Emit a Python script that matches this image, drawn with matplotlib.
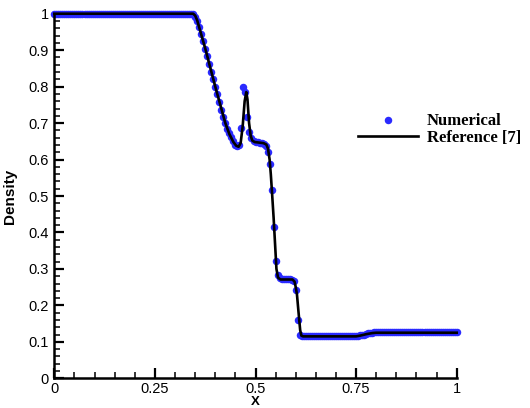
import numpy as np
import matplotlib
matplotlib.use("Agg")
import matplotlib.pyplot as plt
from matplotlib.ticker import MultipleLocator, FixedLocator, FuncFormatter

# ---------------- data ----------------
num_x = np.round(np.arange(0, 201) * 0.005, 3)  # solution grid
num_rho = [
    # 0.000 - 0.340
    1.0, 1.0, 1.0, 1.0, 1.0, 1.0, 1.0, 1.0, 1.0, 1.0,
    1.0, 1.0, 1.0, 1.0, 1.0, 1.0, 1.0, 1.0, 1.0, 1.0,
    1.0, 1.0, 1.0, 1.0, 1.0, 1.0, 1.0, 1.0, 1.0, 1.0,
    1.0, 1.0, 1.0, 1.0, 1.0, 1.0, 1.0, 1.0, 1.0, 1.0,
    1.0, 1.0, 1.0, 1.0, 1.0, 1.0, 1.0, 1.0, 1.0, 1.0,
    1.0, 1.0, 1.0, 1.0, 1.0, 1.0, 1.0, 1.0, 1.0, 1.0,
    1.0, 1.0, 1.0, 1.0, 1.0, 1.0, 1.0, 1.0, 1.0,
    # 0.345 - 0.460
    0.998, 0.992, 0.980, 0.963, 0.944, 0.924, 0.904, 0.883, 0.862, 0.841,
    0.820, 0.800, 0.779, 0.758, 0.737, 0.716, 0.700, 0.685, 0.672, 0.661,
    0.650, 0.641, 0.637, 0.640,
    # 0.465 - 0.615
    0.686, 0.799, 0.784, 0.718, 0.675, 0.660, 0.651, 0.648, 0.647, 0.646,
    0.645, 0.643, 0.636, 0.622, 0.587, 0.516, 0.414, 0.322, 0.283, 0.275,
    0.273, 0.272, 0.272, 0.272, 0.271, 0.270, 0.266, 0.242, 0.161, 0.118,
    0.116,
    # 0.620 - 0.750
    0.116, 0.116, 0.116, 0.116, 0.116, 0.116, 0.116, 0.116, 0.116, 0.116,
    0.116, 0.116, 0.116, 0.116, 0.116, 0.116, 0.116, 0.116, 0.116, 0.116,
    0.116, 0.116, 0.116, 0.116, 0.116, 0.116, 0.116,
    # 0.755 - 0.790
    0.117, 0.118, 0.119, 0.120, 0.122, 0.123, 0.124, 0.125,
    # 0.795 - 1.000
    0.126, 0.126, 0.126, 0.126, 0.126, 0.126, 0.126, 0.126, 0.126, 0.126,
    0.126, 0.126, 0.126, 0.126, 0.126, 0.126, 0.126, 0.126, 0.126, 0.126,
    0.126, 0.126, 0.126, 0.126, 0.126, 0.126, 0.126, 0.126, 0.126, 0.126,
    0.126, 0.126, 0.126, 0.126, 0.126, 0.126, 0.126, 0.126, 0.126, 0.126,
    0.126, 0.126,
]

ref_x = [0.0, 0.345, 0.350, 0.355, 0.375, 0.400, 0.425, 0.435, 0.445, 0.452,
         0.458, 0.463, 0.468, 0.473, 0.477, 0.480, 0.484, 0.488, 0.492, 0.498,
         0.520, 0.527, 0.531, 0.535, 0.538, 0.541, 0.545, 0.549, 0.552, 0.556,
         0.562, 0.592, 0.597, 0.600, 0.603, 0.607, 0.611, 0.614, 0.618, 0.750,
         0.760, 0.775, 0.790, 0.800, 1.0]
ref_rho = [1.0, 1.0, 0.995, 0.982, 0.905, 0.800, 0.700, 0.670, 0.648, 0.638,
           0.635, 0.645, 0.690, 0.760, 0.785, 0.765, 0.700, 0.665, 0.652, 0.648,
           0.645, 0.641, 0.630, 0.600, 0.560, 0.510, 0.440, 0.360, 0.300, 0.276,
           0.271, 0.271, 0.265, 0.250, 0.230, 0.180, 0.132, 0.117, 0.115, 0.115,
           0.117, 0.121, 0.124, 0.125, 0.125]

x_major = [0, 0.25, 0.5, 0.75, 1]
x_labels = ["0", "0.25", "0.5", "0.75", "1"]

# ---------------- figure ----------------
plt.rcParams['font.family'] = ['Liberation Sans', 'DejaVu Sans']
fig = plt.figure(figsize=(5.30, 4.08), dpi=100)
ax = fig.add_axes([0.1025, 0.0728, 0.7592, 0.8936])

ax.plot(num_x, num_rho, linestyle='none', marker='o', markersize=5.4,
        color='#2a2aff', markeredgewidth=0, clip_on=False, label='Numerical', zorder=2)
ax.plot(ref_x, ref_rho, color='black', linewidth=1.9, label='Reference [7]',
        zorder=3, clip_on=False)

ax.set_xlim(0, 1)
ax.set_ylim(0, 1)
for s in ['top', 'right']:
    ax.spines[s].set_visible(False)
for s in ['left', 'bottom']:
    ax.spines[s].set_linewidth(1.8)

ax.xaxis.set_major_locator(FixedLocator(x_major))
ax.xaxis.set_major_formatter(FuncFormatter(lambda v, p: x_labels[x_major.index(round(v, 2))] if round(v, 2) in x_major else ""))
ax.xaxis.set_minor_locator(MultipleLocator(0.05))
ax.yaxis.set_major_locator(MultipleLocator(0.1))
ax.yaxis.set_major_formatter(FuncFormatter(lambda v, p: "0" if abs(v) < 1e-9 else ("1" if abs(v - 1) < 1e-9 else f"{v:.1f}")))
ax.yaxis.set_minor_locator(MultipleLocator(0.02))

ax.tick_params(which='major', direction='in', length=7, width=1.6, labelsize=10.5, pad=4)
ax.tick_params(which='minor', direction='in', length=4, width=1.1)
ax.tick_params(axis='x', which='major', pad=2.5)

ax.set_ylabel('Density', fontsize=11, fontweight='bold')
ax.yaxis.set_label_coords(-0.092, 0.5)
ax.set_xlabel('X', fontsize=9.5, fontweight='bold', va='top')
ax.xaxis.set_label_coords(0.5, -0.048)

leg = ax.legend(loc='upper left', bbox_to_anchor=(0.675, 0.722), bbox_transform=fig.transFigure,
                frameon=False, handlelength=3.6, handletextpad=0.55, labelspacing=0.05,
                borderpad=0, borderaxespad=0, numpoints=1,
                prop={'family': ['Liberation Serif', 'DejaVu Serif'], 'weight': 'bold', 'size': 12})

fig.savefig('out.png', dpi=100)
